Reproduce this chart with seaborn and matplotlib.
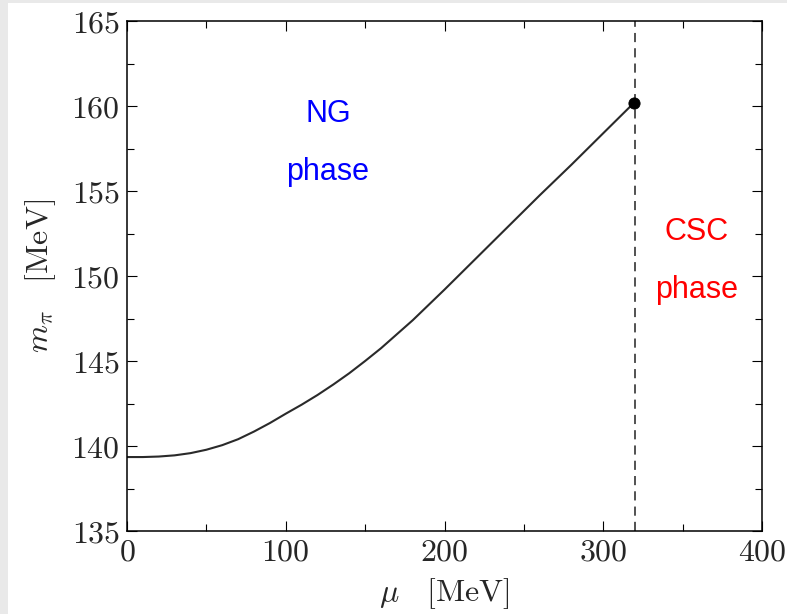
import numpy as np
import pandas as pd
import matplotlib
matplotlib.use("Agg")
import matplotlib.pyplot as plt
from matplotlib.ticker import MultipleLocator, FuncFormatter
from matplotlib.patches import Rectangle
import seaborn as sns

# Data
mu = [0, 10, 20, 30, 40, 50, 60, 70, 80, 90, 100, 110, 120, 130, 140, 150, 160, 180,
      200, 220, 240, 260, 280, 300, 319.5]
m_pi = [139.35, 139.35, 139.38, 139.45, 139.58, 139.78, 140.05, 140.4, 140.85, 141.35,
        141.9, 142.43, 143.0, 143.62, 144.28, 145.0, 145.75, 147.4,
        149.2, 151.05, 152.9, 154.75, 156.55, 158.4, 160.2]
mu_crit = 320
end_mu = [319.5]
end_m = [160.2]

sns.set_theme(style="ticks")
plt.rcParams["mathtext.fontset"] = "cm"
plt.rcParams["font.family"] = ["Liberation Sans", "DejaVu Sans"]

fig = plt.figure(figsize=(7.87, 6.14), dpi=100)
fig.patch.set_facecolor("white")
# light gray border strips of the reference screenshot
fig.patches.append(Rectangle((0, 1 - 3 / 614), 1, 3 / 614, transform=fig.transFigure,
                             facecolor="#e9e9e9", edgecolor="none", zorder=0))
fig.patches.append(Rectangle((0, 0), 8 / 787, 1, transform=fig.transFigure,
                             facecolor="#e9e9e9", edgecolor="none", zorder=0))

ax = fig.add_axes([127 / 787, 1 - 531 / 614, (762 - 127) / 787, (531 - 21) / 614])

df = pd.DataFrame({"mu": mu, "m": m_pi})
sns.lineplot(data=df, x="mu", y="m", ax=ax, color="#2a2a2a", linewidth=1.5)
ax.axvline(mu_crit, color="#222222", linestyle=(0, (6, 4)), linewidth=1.1)
sns.scatterplot(x=end_mu, y=end_m, ax=ax, color="black", s=65, edgecolor="black", zorder=5)

ax.set_xlim(0, 400)
ax.set_ylim(135, 165)
ax.xaxis.set_major_locator(MultipleLocator(100))
ax.xaxis.set_minor_locator(MultipleLocator(50))
ax.yaxis.set_major_locator(MultipleLocator(5))
ax.yaxis.set_minor_locator(MultipleLocator(2.5))
fmt = FuncFormatter(lambda v, p: f"${v:.0f}$")
ax.xaxis.set_major_formatter(fmt)
ax.yaxis.set_major_formatter(fmt)
ax.tick_params(which="both", direction="in", top=True, right=True, width=0.8, color="black")
ax.tick_params(which="major", length=7, labelsize=23, pad=5)
ax.tick_params(which="minor", length=5)
for s in ax.spines.values():
    s.set_linewidth(1.1)
    s.set_color("black")

ax.set_xlabel(r"$\mu\quad[\mathrm{MeV}]$", fontsize=23, labelpad=6)
ax.set_ylabel(r"$m_\pi\quad[\mathrm{MeV}]$", fontsize=23, labelpad=10)

ax.text(126.6, 159.5, "NG", color="#0000ff", fontsize=22, ha="center", va="center")
ax.text(126.6, 156.1, "phase", color="#0000ff", fontsize=22, ha="center", va="center")
ax.text(359, 152.6, "CSC", color="#ff0000", fontsize=22, ha="center", va="center")
ax.text(359, 149.2, "phase", color="#ff0000", fontsize=22, ha="center", va="center")

fig.savefig("out.png", dpi=100)
